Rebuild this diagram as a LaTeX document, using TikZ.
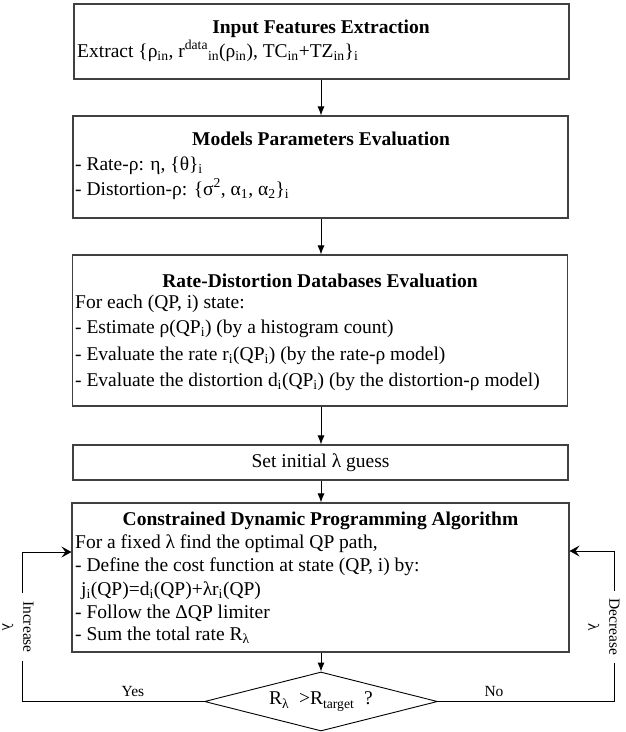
\documentclass[tikz,border=0pt]{standalone}
\usepackage{fontspec}
\setmainfont{Liberation Serif}
\usetikzlibrary{arrows.meta,shapes.geometric}
\begin{document}
\begin{tikzpicture}[x=1pt,y=-1pt,
  font=\fontsize{19.5}{23}\selectfont,
  box/.style={draw=black!75, line width=1.1pt, inner sep=0pt},
  txt/.style={anchor=base west, inner sep=0pt},
  ttl/.style={anchor=base, inner sep=0pt, font=\fontsize{19.5}{23}\selectfont\bfseries},
  lab/.style={font=\fontsize{15.5}{19}\selectfont, inner sep=0pt},
  flow/.style={draw=black, line width=0.9pt, -{Latex[length=9pt,width=7pt]}},
  loopline/.style={draw=black, line width=0.9pt, -{Stealth[length=10pt,width=11pt,inset=4pt]}}
]
\useasboundingbox (0,0) rectangle (626,732);

% boxes
\node[box, minimum width=495pt, minimum height=75pt] (b1) at (321.5,41.5) {};
\node[box, minimum width=495pt, minimum height=102pt] (b2) at (320.5,167) {};
\node[box, minimum width=495pt, minimum height=151pt] (b3) at (320,330.5) {};
\node[box, minimum width=495pt, minimum height=35pt] (b4) at (320.5,462.5) {Set initial λ guess};
\node[box, minimum width=497pt, minimum height=149pt] (b5) at (320.5,577.5) {};
\node[draw=black, line width=0.9pt, diamond, aspect=3.95, minimum width=233pt, minimum height=59pt, inner sep=0pt] (dia) at (321,701.5) {R\textsubscript{λ}\ \ >R\textsubscript{target}\ \ ?};

% box 1
\node[ttl] (t1) at (321,33) {Input Features Extraction};
\node[txt] (t1a) at (77,57) {Extract \{ρ\textsubscript{in}, r\textsuperscript{data}\textsubscript{in}(ρ\textsubscript{in}), TC\textsubscript{in}+TZ\textsubscript{in}\}\textsubscript{i}};

% box 2
\node[ttl] (t2) at (321,145) {Models Parameters Evaluation};
\node[txt] (t2a) at (75,170) {- Rate-ρ: η, \{θ\}\textsubscript{i}};
\node[txt] (t2b) at (75,195) {- Distortion-ρ: \{σ\textsuperscript{2}, α\textsubscript{1}, α\textsubscript{2}\}\textsubscript{i}};

% box 3
\node[ttl] (t3) at (320,287) {Rate-Distortion Databases Evaluation};
\node[txt] (t3a) at (75,308) {For each (QP, i) state:};
\node[txt] (t3b) at (75,333) {- Estimate ρ(QP\textsubscript{i}) (by a histogram count)};
\node[txt] (t3c) at (75,360) {- Evaluate the rate r\textsubscript{i}(QP\textsubscript{i}) (by the rate-ρ model)};
\node[txt] (t3d) at (75,386) {- Evaluate the distortion d\textsubscript{i}(QP\textsubscript{i}) (by the distortion-ρ model)};

% box 5
\node[ttl] (t5) at (320.5,525) {Constrained Dynamic Programming Algorithm};
\node[txt] (t5a) at (75,548) {For a fixed λ find the optimal QP path,};
\node[txt] (t5b) at (75,571) {- Define the cost function at state (QP, i) by:};
\node[txt] (t5c) at (81,595) {j\textsubscript{i}(QP)=d\textsubscript{i}(QP)+λr\textsubscript{i}(QP)};
\node[txt] (t5d) at (75,618) {- Follow\ the ΔQP limiter};
\node[txt] (t5e) at (75,640) {- Sum the total rate R\textsubscript{λ}};

% vertical connectors
\draw[flow] (b1.south -| dia.north) -- (b2.north -| dia.north);
\draw[flow] (b2.south -| dia.north) -- (b3.north -| dia.north);
\draw[flow] (b3.south -| dia.north) -- (b4.north -| dia.north);
\draw[flow] (b4.south -| dia.north) -- (b5.north -| dia.north);
\draw[flow] (b5.south -| dia.north) -- (dia.north);

% loops
\coordinate (l1) at (22,701.5);
\coordinate (l2) at (22,552);
\coordinate (r1) at (614,701.5);
\coordinate (r2) at (614,551);
\draw[loopline] (dia.west) -- (l1) -- (l2) -- (b5.west |- l2);
\draw[loopline] (dia.east) -- (r1) -- (r2) -- (b5.east |- r2);

\node[lab, rotate=-90, fill=white, align=center, inner xsep=8pt, inner ysep=1pt, font=\fontsize{15.5}{21}\selectfont] (inc) at (18,627) {Increase\\λ};
\node[lab, rotate=-90, fill=white, align=center, inner xsep=8pt, inner ysep=1pt, font=\fontsize{15.5}{21}\selectfont] (dec) at (604,627) {Decrease\\λ};
\node[lab, anchor=base] (yes) at (133,696) {Yes};
\node[lab, anchor=base] (no) at (494,696) {No};
\end{tikzpicture}
\end{document}
